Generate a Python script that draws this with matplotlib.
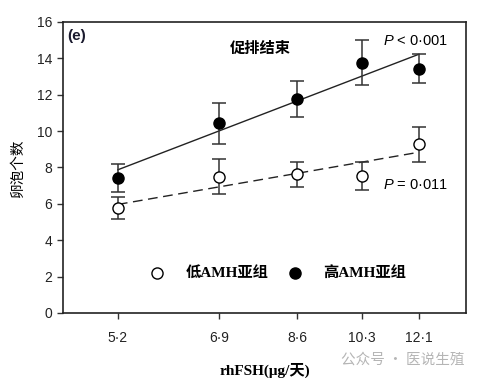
import numpy as np
import matplotlib
matplotlib.use("Agg")
import matplotlib.pyplot as plt

plt.rcParams['font.family'] = ['Liberation Sans', 'Noto Sans CJK SC', 'DejaVu Sans']
plt.rcParams['mathtext.fontset'] = 'custom'
plt.rcParams['mathtext.it'] = 'Liberation Sans:italic'
plt.rcParams['mathtext.rm'] = 'Liberation Sans'

doses = [5.2, 6.9, 8.6, 10.3, 12.1]
dose_labels = ['5·2', '6·9', '8·6', '10·3', '12·1']

high_mean = [7.4, 10.43, 11.77, 13.76, 13.41]
high_upper = [8.2, 11.56, 12.77, 15.0, 14.22]
high_lower = [6.67, 9.29, 10.79, 12.53, 12.63]

low_mean = [5.75, 7.49, 7.64, 7.55, 9.27]
low_upper = [6.36, 8.47, 8.28, 8.28, 10.21]
low_lower = [5.15, 6.52, 6.94, 6.76, 8.28]

yticks = [0, 2, 4, 6, 8, 10, 12, 14, 16]

fig = plt.figure(figsize=(4.8, 3.78), dpi=100)
ax = fig.add_axes([0.131, 0.172, 0.840, 0.770])

x = np.array(doses)
lx = np.log(x)

for mean, up, lo, face, ls in [(high_mean, high_upper, high_lower, 'black', '-'),
                                (low_mean, low_upper, low_lower, 'white', (0, (7, 4)))]:
    m = np.array(mean)
    yerr = np.vstack([m - np.array(lo), np.array(up) - m])
    coef = np.polyfit(lx, m, 1)
    xs = np.array([x[0], x[-1]])
    ax.plot(xs, np.polyval(coef, np.log(xs)), color='#222222', lw=1.0, ls=ls, zorder=2)
    ax.errorbar(x, m, yerr=yerr, fmt='none', ecolor='#333333', elinewidth=1.1,
                capsize=5, capthick=1.1, zorder=3)
    ax.plot(x, m, 'o', ms=8, mfc=face, mec='black', mew=1.0, zorder=4, ls='none')

ax.set_xscale('log')
ax.set_xlim(4.456, 13.81)
ax.set_ylim(0, 16)
ax.set_xticks(doses)
ax.set_xticklabels(dose_labels)
ax.xaxis.set_minor_locator(matplotlib.ticker.NullLocator())
ax.set_yticks(yticks)
ax.tick_params(axis='both', labelsize=10, length=4, width=1, color='#333333', labelcolor='#222222')
ax.tick_params(axis='x', pad=9)
for s in ax.spines.values():
    s.set_linewidth(1.2)
    s.set_color('#222222')

ax.set_ylabel('卵泡个数', fontsize=10.5, family=['Noto Sans CJK SC'], labelpad=9)
ax.set_xlabel('rhFSH(μg/天)', fontsize=11, fontweight='bold',
              family=['Liberation Serif', 'Noto Sans CJK SC'], labelpad=13)

ax.text(0.012, 0.975, '(e)', transform=ax.transAxes, fontsize=11, fontweight='bold',
        ha='left', va='top', color='#1a1a2e')
ax.text(0.49, 0.91, '促排结束', transform=ax.transAxes, fontsize=11, fontweight='bold',
        ha='center', va='center', family=['Noto Sans CJK SC'])
ax.text(0.955, 0.935, r'$\it{P}$ < 0·001', transform=ax.transAxes, fontsize=10.5,
        ha='right', va='center')
ax.text(0.955, 0.44, r'$\it{P}$ = 0·011', transform=ax.transAxes, fontsize=10.5,
        ha='right', va='center')

# legend
ax.plot([5.8], [2.18], 'o', ms=8, mfc='white', mec='black', mew=1.0)
ax.text(6.28, 2.18, '低AMH亚组', fontsize=11, fontweight='bold', va='center', ha='left',
        family=['Liberation Serif', 'Noto Sans CJK SC'])
ax.plot([8.55], [2.18], 'o', ms=8, mfc='black', mec='black', mew=1.0)
ax.text(9.25, 2.18, '高AMH亚组', fontsize=11, fontweight='bold', va='center', ha='left',
        family=['Liberation Serif', 'Noto Sans CJK SC'])

fig.text(0.968, 0.05, '公众号 · 医说生殖', fontsize=10.5, color='#b5b5b5', ha='right',
         va='center', family=['Noto Sans CJK SC'])

fig.savefig('out.png', dpi=100)
